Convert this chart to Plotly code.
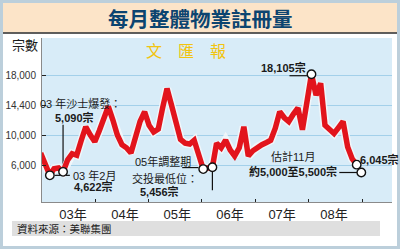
import pandas as pd
import plotly.graph_objects as go

# ---------------- data ----------------
months = [d.strftime("%Y-%m-%d") for d in pd.date_range("2002-12-01", "2008-10-01", freq="MS")]
registrations = [
    7600,                                                                      # 2002-12
    6100, 4622, 5500, 5600, 5090, 6700, 7500, 7300, 9300, 11100, 10000, 9100,   # 2003
    10600, 12200, 13800, 12000, 10000, 8700, 8300, 7600, 10000, 11800, 13100, 11300,  # 2004
    10400, 10800, 13500, 16200, 14000, 11500, 9400, 8900, 8800, 9300, 7000, 5456,     # 2005
    5600, 5700, 8900, 8300, 9300, 8000, 7200, 8300, 11100, 7200, 7900, 8400,         # 2006
    8700, 9000, 9300, 10900, 13100, 12300, 11800, 12800, 13600, 10700, 15100, 18105,  # 2007
    15300, 16900, 11300, 10800, 10200, 11000, 11800, 8400, 6800, 6045,               # 2008
]
highlight_months = ["2003-02-01", "2003-05-01", "2005-12-01", "2006-02-01", "2007-12-01", "2008-10-01"]
estimate_month = "2008-11-01"
estimate_value = 5000  # 約5,000至5,500宗

y_tick_vals = [6000, 10000, 14000, 18000]
y_tick_text = ["6,000", "10,000", "14,400", "18,000"]
x_tick_vals = ["2003-07-07", "2004-06-22", "2005-06-09", "2006-05-31", "2007-05-17", "2008-05-01"]
x_tick_text = ["03年", "04年", "05年", "06年", "07年", "08年"]

title_text = "每月整體物業註冊量"
y_title = "宗數"
source_text = "資料來源：美聯集團"
watermark = "文　匯　報"

# ---------------- figure ----------------
W, H = 400, 249
L, R, T, B = 42, 8, 38, 47
PW, PH = W - L - R, H - T - B


def px(x):
    return (x - L) / PW


def py(y):
    return (H - B - y) / PH


CJK = "Liberation Sans, Noto Sans CJK TC"

lookup = dict(zip(months, registrations))
hl_vals = [lookup[m] for m in highlight_months]

fig = go.Figure()
# soft halo under the red line
fig.add_trace(go.Scatter(x=months, y=registrations, mode="lines",
                         line=dict(color="rgba(245,248,250,0.85)", width=8.5),
                         hoverinfo="skip", showlegend=False))
fig.add_trace(go.Scatter(x=months, y=registrations, mode="lines",
                         line=dict(color="#E2141C", width=5.5),
                         showlegend=False))
fig.add_trace(go.Scatter(x=highlight_months + [estimate_month], y=hl_vals + [estimate_value],
                         mode="markers",
                         marker=dict(size=8.5, color="white", line=dict(color="#111", width=1.4)),
                         showlegend=False, cliponaxis=False))

shapes = []
# outer frame
shapes.append(dict(type="rect", xref="paper", yref="paper", x0=px(1.5), x1=px(W - 1.5),
                   y0=py(H - 1.5), y1=py(1.5), line=dict(color="#BCCFDB", width=3),
                   fillcolor="rgba(0,0,0,0)", layer="above"))
# title band
shapes.append(dict(type="rect", xref="paper", yref="paper", x0=px(3), x1=px(W - 3),
                   y0=py(32.5), y1=py(3), line=dict(width=0), fillcolor="#FCE4C8", layer="below"))
shapes.append(dict(type="line", xref="paper", yref="paper", x0=px(3), x1=px(W - 3),
                   y0=py(33), y1=py(33), line=dict(color="#2A2A2A", width=1.5)))
# source band
shapes.append(dict(type="rect", xref="paper", yref="paper", x0=px(12), x1=px(380),
                   y0=py(236), y1=py(221), line=dict(width=0), fillcolor="#DFDFDF", layer="below"))


def connector(xa, ya, x0, x1, y0, y1):
    shapes.append(dict(type="line", xref="x", yref="y",
                       xsizemode="pixel", xanchor=xa, x0=x0, x1=x1,
                       ysizemode="pixel", yanchor=ya, y0=y0, y1=y1,
                       line=dict(color="#111", width=1.2), layer="between"))


connector(highlight_months[0], hl_vals[0], 0, 20, 0, 0)
connector(highlight_months[1], hl_vals[1], 0, 0, 0, 47)
connector(highlight_months[2], hl_vals[2], -21, 0, 1.5, 1.5)
connector(highlight_months[3], hl_vals[3], 0, 0, 0, -23)
connector(highlight_months[4], hl_vals[4], -22, 0, -1.5, -1.5)
connector(estimate_month, estimate_value, -22, 0, 0, 0)

ann = []


def label(text, xa, ya, xs, ys, anchor="center", bold=False, size=11):
    ann.append(dict(text=f"<b>{text}</b>" if bold else text, x=xa, y=ya, xref="x", yref="y",
                    xshift=xs, yshift=ys, xanchor=anchor, yanchor="middle", showarrow=False,
                    font=dict(family=CJK, size=size, color="#1A1A1A")))


label("03 年沙士爆發：", highlight_months[1], hl_vals[1], -25, 68.5, "left")
label("5,090宗", highlight_months[1], hl_vals[1], 11, 54.7, "center", True)
label("03 年2月", highlight_months[0], hl_vals[0], 21, 0, "left")
label("4,622宗", highlight_months[0], hl_vals[0], 22, -11, "left", True)
label("05年調整期", highlight_months[2], hl_vals[2], -10, 7.8, "right")
label("交投最低位：", highlight_months[2], hl_vals[2], -38, -9.7, "center")
label("5,456宗", highlight_months[2], hl_vals[2], -44, -22.2, "center", True)
label("18,105宗", highlight_months[4], hl_vals[4], -3, 6.3, "right", True)
label("6,045宗", highlight_months[5], hl_vals[5], 1, 5.5, "left", True)
label("約5,000至5,500宗", estimate_month, estimate_value, -22, 1.5, "right", True)
label("估計11月", estimate_month, estimate_value, -68, 16.5, "center")

# title, axis caption, source, watermark
ann.append(dict(text=f"<b>{title_text}</b>", xref="paper", yref="paper", x=px(200), y=py(17.5),
                xanchor="center", yanchor="middle", showarrow=False,
                font=dict(family="Noto Sans CJK TC", size=20.5, color="#0C4470", weight=900)))
ann.append(dict(text=y_title, xref="paper", yref="paper", x=px(25), y=py(45),
                xanchor="center", yanchor="middle", showarrow=False,
                font=dict(family=CJK, size=13, color="#1A1A1A")))
ann.append(dict(text=source_text, xref="paper", yref="paper", x=px(15), y=py(228.5),
                xanchor="left", yanchor="middle", showarrow=False,
                font=dict(family=CJK, size=10.5, color="#1A1A1A")))
ann.append(dict(text=watermark, xref="paper", yref="paper", x=px(186), y=py(50),
                xanchor="center", yanchor="middle", showarrow=False,
                font=dict(family="Noto Sans CJK TC", size=16, color="#F2C410")))

fig.update_layout(
    width=W, height=H,
    margin=dict(l=L, r=R, t=T, b=B, pad=0, autoexpand=False),
    paper_bgcolor="white",
    plot_bgcolor="#D8ECF8",
    shapes=shapes,
    annotations=ann,
    showlegend=False,
    xaxis=dict(
        type="date", automargin=False,
        range=["2002-12-10", "2009-05-27"],
        tickvals=x_tick_vals, ticktext=x_tick_text,
        ticks="", showgrid=False, zeroline=False,
        showline=True, linecolor="#8A8A8A", linewidth=1,
        tickfont=dict(family=CJK, size=13, color="#222"),
        minor=dict(ticks="inside", ticklen=3, tickcolor="#222", tickwidth=1.2,
                   tick0="2003-12-03", dtick=360 * 86400000, showgrid=False),
    ),
    yaxis=dict(
        automargin=False,
        range=[1067, 22933],
        tickvals=y_tick_vals, ticktext=y_tick_text,
        ticks="inside", ticklen=4, tickcolor="#222", tickwidth=1.2,
        showgrid=True, gridcolor="#A3D0EA", gridwidth=1,
        zeroline=False, showline=True, linecolor="#8A8A8A", linewidth=1,
        tickfont=dict(family="Liberation Sans", size=10, color="#333"),
        ticklabelstandoff=3,
    ),
)

fig.write_html("out.html")
